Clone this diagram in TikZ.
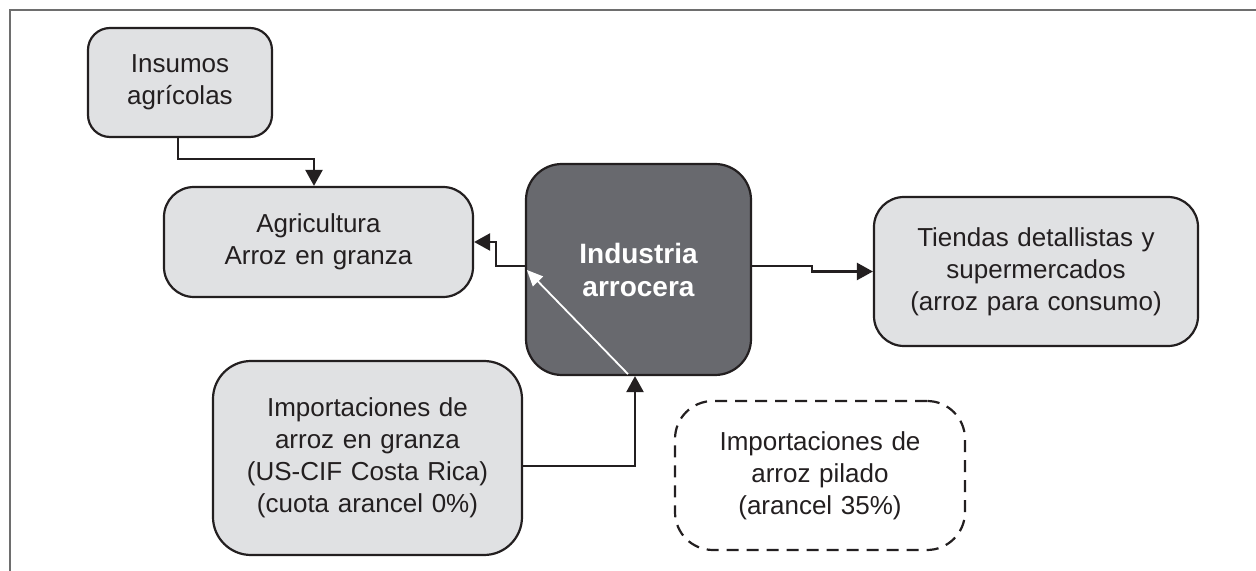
\documentclass[tikz,border=0pt]{standalone}
\usepackage{fontspec}
\setmainfont{Liberation Sans}
\usetikzlibrary{arrows.meta,shapes}
\definecolor{inkgray}{RGB}{35,31,32}
\definecolor{lightfill}{RGB}{224,225,227}
\definecolor{darkfill}{RGB}{104,105,110}
\definecolor{framegray}{RGB}{110,110,110}
\tikzstyle{block} = [rectangle, draw=inkgray, fill=lightfill, text=inkgray, line width=1.1pt, text centered, inner xsep=0pt, rounded corners=13pt, font=\fontsize{13}{16}\selectfont]
\tikzstyle{inputblock} = [block, text width=92pt, minimum height=54.5pt, rounded corners=11pt]
\tikzstyle{farmblock} = [block, text width=154.5pt, minimum height=55pt, rounded corners=15pt]
\tikzstyle{millblock} = [block, fill=darkfill, text=white, text width=112.5pt, minimum height=105.5pt, rounded corners=18pt, font=\fontsize{14}{16.5}\selectfont\bfseries]
\tikzstyle{storeblock} = [block, text width=162pt, minimum height=74.5pt, rounded corners=15pt]
\tikzstyle{importblock} = [block, text width=154.5pt, minimum height=97pt, rounded corners=19pt]
\tikzstyle{dashedblock} = [block, fill=white, dash pattern=on 6pt off 4pt, text width=145pt, minimum height=74.5pt, rounded corners=19pt]
\tikzstyle{flow} = [->, draw=inkgray, line width=1.2pt]

\begin{document}
\begin{tikzpicture}[node distance=160pt, >={Triangle[length=8pt,width=8.5pt]}]
   % frame
   \useasboundingbox (-319.25pt,134.75pt) rectangle (308.75pt,-150.75pt);
   \draw[framegray, line width=1pt] (-314.25pt,-150.75pt) -- (-314.25pt,129.75pt) -- (308.75pt,129.75pt);

   % nodes
   \node[millblock] (ind) at (0,0)                                        {Industria\\arrocera};
   \node[farmblock] (agr) [left of=ind, yshift=13.75pt]                   {Agricultura\\Arroz en granza};
   \node[inputblock] (ins) [above of=agr, node distance=79.75pt, xshift=-69.25pt] {Insumos\\agrícolas};
   \node[storeblock] (tie) [right of=ind, node distance=198.75pt, yshift=-1pt]   {Tiendas detallistas y\\supermercados\\(arroz para consumo)};
   \node[importblock] (gra) [below of=agr, node distance=108pt, xshift=24.5pt]   {Importaciones de\\arroz en granza\\(US-CIF Costa Rica)\\(cuota arancel 0\%)};
   \node[dashedblock] (pil) [below of=ind, node distance=103pt, xshift=90.75pt]  {Importaciones de\\arroz pilado\\(arancel 35\%)};

   % edges
   \draw[flow] ([xshift=-1pt]ins.south) -- ++(0,-10.5pt) -| ([xshift=-2.25pt]agr.north);
   \draw[flow] ([yshift=1.75pt]ind.west) -- ++(-14.5pt,0) |- (agr.east);
   \draw[flow] ([yshift=1.75pt]ind.east) -- ++(30pt,0) |- (tie.west);
   \draw[flow] ([yshift=-4pt]gra.east) -| ([xshift=-1.75pt]ind.south);
   \draw[->, white, line width=0.9pt, >={Triangle[length=8pt,width=7pt]}] ([xshift=-5.25pt,yshift=1pt]ind.south) -- ([xshift=1pt,yshift=-0.25pt]ind.west);
\end{tikzpicture}
\end{document}
